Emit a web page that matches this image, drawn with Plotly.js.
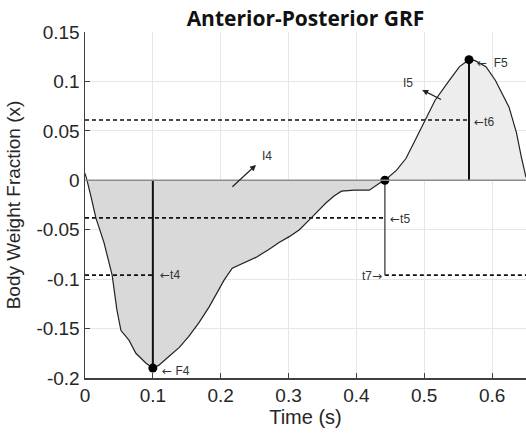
<!DOCTYPE html>
<html>
<head>
<meta charset="utf-8">
<script src="https://cdn.plot.ly/plotly-3.0.1.min.js"></script>
<style>html,body{margin:0;padding:0;background:#fff;}#chart{width:526px;height:434px;}</style>
</head>
<body>
<div id="chart"></div>
<script>
// Anterior-posterior GRF curve (time in s, body-weight fraction)
const time = [0, 0.003, 0.009, 0.016, 0.028, 0.038, 0.040, 0.047, 0.053, 0.059, 0.065, 0.075, 0.090, 0.100, 0.109, 0.124, 0.139, 0.153, 0.168, 0.183, 0.193, 0.205, 0.217, 0.235, 0.252, 0.271, 0.286, 0.301, 0.316, 0.335, 0.355, 0.367, 0.378, 0.397, 0.419, 0.434, 0.442, 0.459, 0.473, 0.487, 0.501, 0.516, 0.537, 0.552, 0.566, 0.575, 0.591, 0.605, 0.625, 0.636, 0.643, 0.650];
const grf = [0.007, 0.0, -0.017, -0.038, -0.063, -0.089, -0.096, -0.131, -0.152, -0.157, -0.162, -0.175, -0.185, -0.190, -0.187, -0.178, -0.169, -0.158, -0.144, -0.128, -0.115, -0.101, -0.089, -0.083, -0.078, -0.070, -0.063, -0.057, -0.050, -0.037, -0.023, -0.016, -0.011, -0.010, -0.010, -0.003, 0.000, 0.010, 0.022, 0.041, 0.061, 0.081, 0.101, 0.115, 0.122, 0.121, 0.115, 0.101, 0.074, 0.048, 0.024, 0.003];

// Key points: F4 (min), zero crossing, F5 (max)
const keyNames = ['F4', 'cross', 'F5'];
const keyT = [0.100, 0.442, 0.566];
const keyF = [-0.190, 0.000, 0.122];

// Threshold (dashed) lines: t6, t5, t4, t7
const thrNames = ['t6', 't5', 't4', 't7'];
const thrY = [0.061, -0.038, -0.096, -0.096];
const thrX0 = [0, 0, 0, 0.442];
const thrX1 = [0.566, 0.442, 0.100, 0.650];

// Vertical drop line from crossing to t7
const dropT = [0.442, 0.442];
const dropF = [0.000, -0.096];

const xTicks = [0, 0.1, 0.2, 0.3, 0.4, 0.5, 0.6];
const xTickText = ['0', '0.1', '0.2', '0.3', '0.4', '0.5', '0.6'];
const yTicks = [0.15, 0.1, 0.05, 0, -0.05, -0.1, -0.15, -0.2];
const yTickText = ['0.15', '0.1', '0.05', '0', '-0.05', '-0.1', '-0.15', '-0.2'];

const ic = time.indexOf(keyT[1]);
const negT = time.slice(1, ic + 1), negF = grf.slice(1, ic + 1);
const posT = time.slice(ic), posF = grf.slice(ic);

const traces = [];
traces.push({x: negT, y: negF, type: 'scatter', mode: 'none', fill: 'tozeroy', fillcolor: '#d9d9d9', hoverinfo: 'skip'});
traces.push({x: posT, y: posF, type: 'scatter', mode: 'none', fill: 'tozeroy', fillcolor: '#ededed', hoverinfo: 'skip'});
for (let i = 0; i < thrY.length; i++) {
  traces.push({x: [thrX0[i], thrX1[i]], y: [thrY[i], thrY[i]], type: 'scatter', mode: 'lines',
    line: {color: '#111', width: 1.7, dash: '4px,3px'}, hoverinfo: 'skip'});
}
traces.push({x: [keyT[0], keyT[0]], y: [0, keyF[0]], type: 'scatter', mode: 'lines', line: {color: '#111', width: 2}});
traces.push({x: [keyT[2], keyT[2]], y: [0, keyF[2]], type: 'scatter', mode: 'lines', line: {color: '#111', width: 2}});
traces.push({x: dropT, y: dropF, type: 'scatter', mode: 'lines', line: {color: '#555', width: 1.5}});
traces.push({x: time, y: grf, type: 'scatter', mode: 'lines', line: {color: '#222', width: 1.2}});
traces.push({x: keyT, y: keyF, type: 'scatter', mode: 'markers', marker: {color: '#000', size: 9}});

const AR_L = '<span style="font-family:DejaVu Sans">←</span>';
const AR_R = '<span style="font-family:DejaVu Sans">→</span>';
const lblFont = {family: 'Liberation Sans, Arial, sans-serif', size: 12, color: '#333'};
const annotations = [
  {x: 0.108, y: thrY[2], text: AR_L + 't4', xanchor: 'left', yanchor: 'middle', showarrow: false, font: lblFont},
  {x: 0.111, y: -0.193, text: AR_L + ' F4', xanchor: 'left', yanchor: 'middle', showarrow: false, font: lblFont},
  {x: 0.447, y: -0.039, text: AR_L + 't5', xanchor: 'left', yanchor: 'middle', showarrow: false, font: lblFont},
  {x: 0.441, y: -0.097, text: 't7' + AR_R, xanchor: 'right', yanchor: 'middle', showarrow: false, font: lblFont},
  {x: 0.571, y: 0.059, text: AR_L + 't6', xanchor: 'left', yanchor: 'middle', showarrow: false, font: lblFont},
  {x: 0.575, y: 0.119, text: AR_L + '  F5', xanchor: 'left', yanchor: 'middle', showarrow: false, font: lblFont},
  {x: 0.268, y: 0.0246, text: 'I4', xanchor: 'center', yanchor: 'middle', showarrow: false, font: lblFont},
  {x: 0.476, y: 0.0985, text: 'I5', xanchor: 'center', yanchor: 'middle', showarrow: false, font: lblFont},
  {x: 0.252, y: 0.0155, ax: 0.215, ay: -0.008, axref: 'x', ayref: 'y', text: '', showarrow: true,
    arrowhead: 2, arrowsize: 1, arrowwidth: 1.2, arrowcolor: '#222'},
  {x: 0.497, y: 0.0914, ax: 0.527, ay: 0.081, axref: 'x', ayref: 'y', text: '', showarrow: true,
    arrowhead: 2, arrowsize: 1, arrowwidth: 1.2, arrowcolor: '#222'}
];

const tickFont = {family: 'Liberation Sans, Arial, sans-serif', size: 19, color: '#262626'};
const layout = {
  width: 526, height: 434,
  margin: {l: 85, r: 0, t: 32, b: 56},
  paper_bgcolor: '#fff', plot_bgcolor: '#fff',
  showlegend: false,
  title: {text: '<b>Anterior-Posterior GRF</b>', font: {family: 'Open Sans, sans-serif', size: 21, color: '#111'},
    xref: 'paper', x: 0.5, xanchor: 'center', yref: 'container', y: 0.957, yanchor: 'middle'},
  xaxis: {range: [0, 0.65], tickvals: xTicks, ticktext: xTickText, tickfont: tickFont,
    showgrid: true, gridcolor: '#e6e6e6', gridwidth: 1, zeroline: false,
    showline: true, linecolor: '#404040', linewidth: 1.5, ticks: 'inside', ticklen: 5, tickcolor: '#404040',
    title: {text: 'Time (s)', font: {family: 'Liberation Sans, Arial, sans-serif', size: 20, color: '#262626'}, standoff: 4}},
  yaxis: {range: [-0.2, 0.15], tickvals: yTicks, ticktext: yTickText, tickfont: tickFont,
    showgrid: true, gridcolor: '#e6e6e6', gridwidth: 1, zeroline: false,
    showline: true, linecolor: '#404040', linewidth: 1.5, ticks: 'inside', ticklen: 5, tickcolor: '#404040',
    title: {text: 'Body Weight Fraction (x)', font: {family: 'Liberation Sans, Arial, sans-serif', size: 19, color: '#262626'}, standoff: 10}},
  shapes: [{type: 'line', xref: 'paper', x0: 0, x1: 1, yref: 'y', y0: 0, y1: 0, line: {color: '#8c8c8c', width: 1.5}, layer: 'above'}],
  annotations: annotations
};

Plotly.newPlot('chart', traces, layout, {displayModeBar: false, staticPlot: true});
</script>
</body>
</html>
